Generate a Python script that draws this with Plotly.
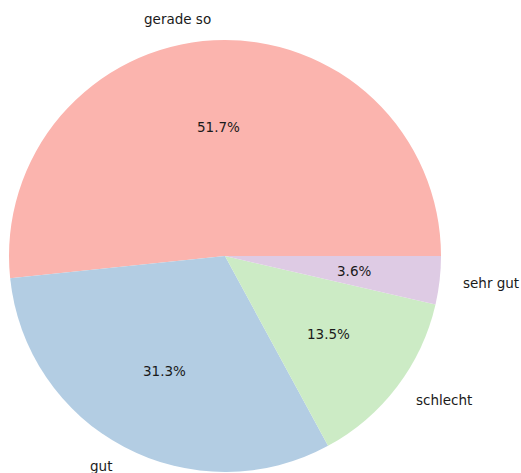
import math
import plotly.graph_objects as go

labels = ["gerade so", "gut", "schlecht", "sehr gut"]
values = [51.7, 31.3, 13.5, 3.6]
colors = ["#fbb4ae", "#b3cde3", "#ccebc5", "#decbe4"]

W, H = 521, 473
cx_px, cy_px, r_px = 225, 256, 216  # pie centre (from figure top-left) and radius
cy_b = H - cy_px

total = sum(values)
# first slice starts at 3 o'clock and runs counterclockwise
rotation = 90 - values[0] / total * 360

fig = go.Figure(go.Pie(
    labels=labels, values=values, sort=False,
    direction="counterclockwise", rotation=rotation,
    marker=dict(colors=colors, line=dict(width=0)),
    textinfo="none", hoverinfo="label+percent",
    domain=dict(x=[(cx_px - r_px) / W, (cx_px + r_px) / W],
                y=[(cy_b - r_px) / H, (cy_b + r_px) / H]),
    showlegend=False,
))

start = 0.0
font = dict(family="DejaVu Sans", size=13.5, color="#1a1a1a")
for lab, v in zip(labels, values):
    mid = math.radians((start + v / 2) / total * 360)
    start += v
    c, s = math.cos(mid), math.sin(mid)
    # outside label at 1.1 r
    fig.add_annotation(x=(cx_px + 1.1 * r_px * c) / W, y=(cy_b + 1.1 * r_px * s) / H,
                       xref="paper", yref="paper", text=lab, showarrow=False,
                       xanchor="left" if c > 0 else "right", yanchor="middle", font=font)
    # percentage at 0.6 r
    fig.add_annotation(x=(cx_px + 0.6 * r_px * c) / W, y=(cy_b + 0.6 * r_px * s) / H,
                       xref="paper", yref="paper", text=f"{v:.1f}%", showarrow=False,
                       xanchor="center", yanchor="middle", font=font)

fig.update_layout(width=W, height=H, margin=dict(l=0, r=0, t=0, b=0),
                  paper_bgcolor="white", plot_bgcolor="white")
fig.write_html("out.html", config={"displayModeBar": False},
               post_script="document.body.style.margin='0';document.body.style.overflow='hidden';")
